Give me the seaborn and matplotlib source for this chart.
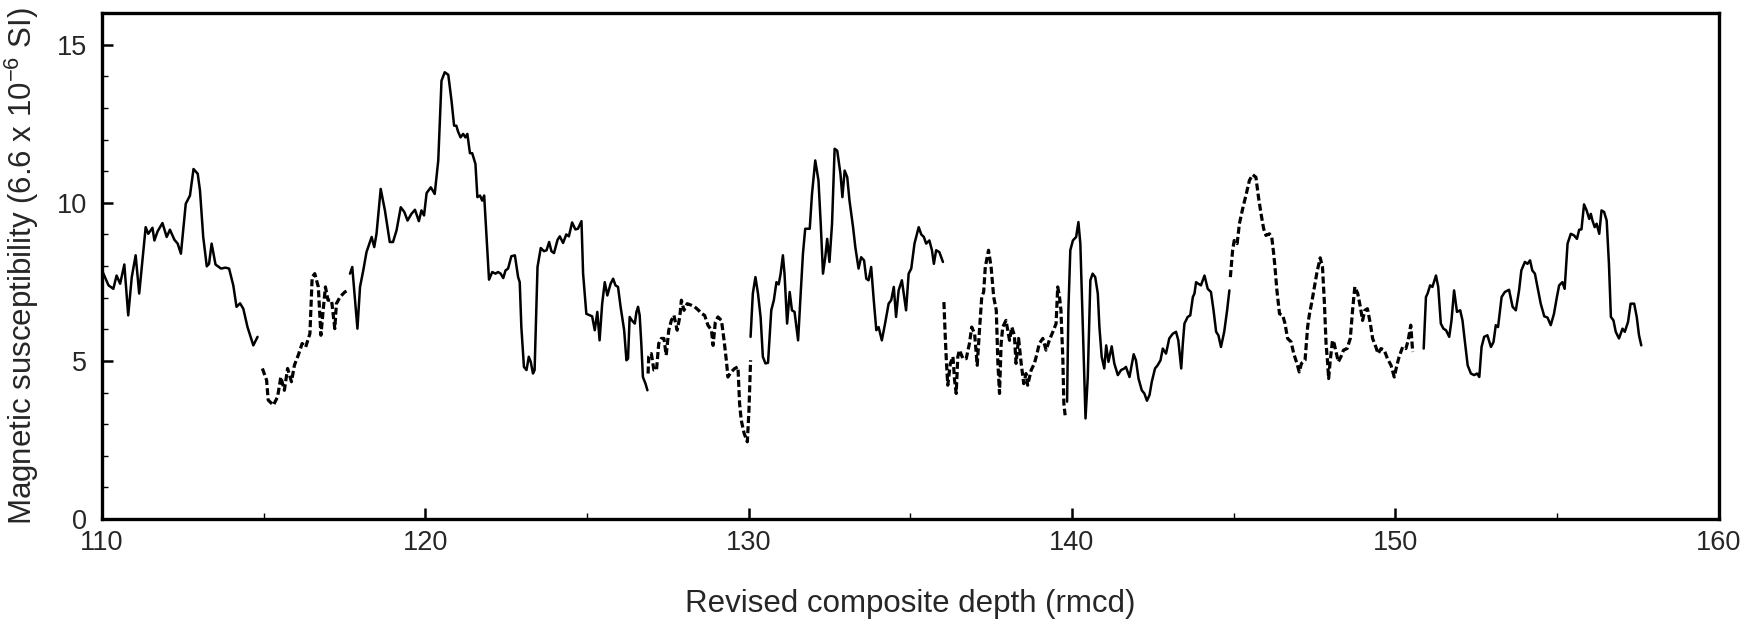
import numpy as np
import pandas as pd
import matplotlib
matplotlib.use("Agg")
import matplotlib.pyplot as plt
import seaborn as sns
from matplotlib.ticker import MultipleLocator

# depth (rmcd), magnetic susceptibility -- solid and dashed pieces, in depth order
solid_1 = [(110.0, 7.86), (110.09, 7.65), (110.2, 7.39), (110.35, 7.28), (110.45, 7.7), (110.56, 7.44),
           (110.69, 8.05), (110.81, 6.44), (110.92, 7.65), (111.04, 8.34), (111.15, 7.13), (111.35, 9.23),
           (111.43, 9.02), (111.56, 9.21), (111.62, 8.81), (111.72, 9.1), (111.87, 9.36), (112.0, 8.92),
           (112.1, 9.15), (112.24, 8.83), (112.34, 8.71), (112.44, 8.39), (112.59, 9.97), (112.72, 10.23),
           (112.83, 11.07), (112.96, 10.92), (113.03, 10.39), (113.13, 8.92), (113.24, 7.99), (113.31, 8.07),
           (113.39, 8.71), (113.51, 8.05), (113.68, 7.92), (113.82, 7.95), (113.93, 7.92), (114.06, 7.39),
           (114.16, 6.71), (114.27, 6.82), (114.37, 6.65), (114.5, 6.07), (114.68, 5.49), (114.81, 5.76)]

dashed_1 = [(114.96, 4.76), (115.09, 4.39), (115.14, 3.76), (115.3, 3.6), (115.43, 3.86), (115.53, 4.49),
            (115.64, 4.07), (115.74, 4.76), (115.86, 4.34), (115.95, 4.86), (116.07, 5.18), (116.19, 5.55),
            (116.3, 5.44), (116.43, 5.86), (116.5, 7.65), (116.58, 7.76), (116.69, 7.34), (116.77, 5.81),
            (116.84, 6.6), (116.91, 7.34), (116.99, 6.92), (117.1, 6.92), (117.2, 6.02), (117.25, 6.81),
            (117.36, 7.02), (117.51, 7.18), (117.61, 7.23)]

solid_2 = [(117.67, 7.76), (117.74, 7.97), (117.9, 6.02), (117.98, 7.34), (118.08, 7.86), (118.18, 8.44),
           (118.34, 8.92), (118.42, 8.6), (118.49, 9.02), (118.62, 10.44), (118.75, 9.76), (118.9, 8.76),
           (119.0, 8.76), (119.11, 9.13), (119.24, 9.86), (119.35, 9.71), (119.45, 9.44), (119.57, 9.65),
           (119.68, 9.78), (119.8, 9.42), (119.88, 9.76), (119.96, 9.6), (120.04, 10.31), (120.17, 10.49),
           (120.29, 10.28), (120.4, 11.34), (120.5, 13.86), (120.6, 14.13), (120.71, 14.05), (120.81, 13.23),
           (120.89, 12.44), (120.96, 12.44), (121.01, 12.26), (121.09, 12.07), (121.17, 12.18), (121.24, 12.07),
           (121.3, 12.18), (121.38, 11.57), (121.45, 11.57), (121.55, 11.23), (121.61, 10.18), (121.69, 10.23),
           (121.76, 10.07), (121.82, 10.23), (121.97, 7.57), (122.07, 7.81), (122.17, 7.76), (122.25, 7.81),
           (122.33, 7.76), (122.41, 7.62), (122.48, 7.86), (122.56, 7.92), (122.66, 8.31), (122.77, 8.34),
           (122.87, 7.65), (122.92, 7.49), (122.97, 6.07), (123.05, 4.81), (123.13, 4.71), (123.2, 5.13),
           (123.26, 4.97), (123.33, 4.6), (123.38, 4.71), (123.47, 7.97), (123.57, 8.57), (123.67, 8.47),
           (123.75, 8.5), (123.83, 8.76), (123.9, 8.47), (123.98, 8.41), (124.09, 8.83), (124.16, 8.94),
           (124.26, 8.73), (124.36, 9.0), (124.44, 8.94), (124.54, 9.38), (124.64, 9.16), (124.72, 9.18),
           (124.83, 9.42), (124.88, 7.76), (124.98, 6.49), (125.09, 6.44), (125.16, 6.41), (125.24, 5.97),
           (125.32, 6.55), (125.39, 5.65), (125.47, 6.81), (125.55, 7.49), (125.63, 7.07), (125.73, 7.44),
           (125.81, 7.6), (125.88, 7.39), (125.96, 7.34), (126.04, 6.71), (126.15, 5.97), (126.22, 5.02),
           (126.27, 5.07), (126.32, 6.39), (126.39, 6.28), (126.48, 6.18), (126.53, 6.55), (126.58, 6.71),
           (126.63, 6.44), (126.68, 5.55), (126.73, 4.49), (126.81, 4.28), (126.87, 4.07)]

dashed_2 = [(126.89, 4.6), (126.91, 5.13), (126.99, 5.23), (127.07, 4.71), (127.15, 4.71), (127.22, 5.55),
            (127.3, 5.71), (127.38, 5.71), (127.45, 5.18), (127.53, 5.97), (127.61, 6.28), (127.69, 6.44),
            (127.79, 5.97), (127.87, 6.39), (127.92, 6.92), (128.0, 6.6), (128.1, 6.81), (128.23, 6.76),
            (128.33, 6.71), (128.43, 6.62), (128.56, 6.49), (128.64, 6.44), (128.74, 6.13), (128.85, 5.97),
            (128.9, 5.49), (128.97, 6.23), (129.05, 6.39), (129.16, 6.28), (129.24, 5.65), (129.31, 5.02),
            (129.36, 4.49), (129.46, 4.65), (129.57, 4.76), (129.67, 4.81), (129.72, 3.65), (129.77, 3.13),
            (129.86, 2.71), (129.96, 2.44), (130.01, 3.44), (130.06, 5.02)]

solid_3 = [(130.06, 5.76), (130.13, 7.13), (130.21, 7.65), (130.29, 7.13), (130.37, 6.39), (130.44, 5.13),
           (130.52, 4.92), (130.6, 4.94), (130.7, 6.6), (130.78, 6.92), (130.86, 7.49), (130.93, 7.42),
           (130.99, 7.76), (131.06, 8.34), (131.11, 7.76), (131.19, 6.18), (131.27, 7.18), (131.34, 6.6),
           (131.42, 6.55), (131.53, 5.65), (131.61, 7.13), (131.68, 8.39), (131.75, 9.18), (131.89, 9.18),
           (131.96, 10.28), (132.06, 11.34), (132.16, 10.71), (132.23, 9.34), (132.3, 7.76), (132.37, 8.28),
           (132.43, 8.86), (132.5, 8.13), (132.58, 9.34), (132.66, 11.71), (132.74, 11.65), (132.84, 10.92),
           (132.9, 10.18), (132.97, 11.02), (133.05, 10.81), (133.12, 10.07), (133.23, 9.23), (133.3, 8.6),
           (133.4, 7.92), (133.48, 8.28), (133.57, 8.18), (133.64, 7.6), (133.71, 7.55), (133.79, 7.97),
           (133.87, 6.92), (133.95, 5.97), (134.02, 6.07), (134.12, 5.65), (134.22, 6.18), (134.33, 6.81),
           (134.41, 6.92), (134.49, 7.34), (134.56, 6.39), (134.64, 7.23), (134.74, 7.55), (134.87, 6.6),
           (134.95, 7.76), (135.03, 7.92), (135.13, 8.71), (135.26, 9.23), (135.34, 9.0), (135.42, 8.92),
           (135.49, 8.71), (135.59, 8.81), (135.67, 8.5), (135.73, 8.07), (135.8, 8.5), (135.9, 8.44),
           (136.01, 8.13)]

dashed_3 = [(136.04, 6.86), (136.08, 5.81), (136.12, 4.92), (136.16, 4.23), (136.24, 4.92), (136.32, 5.13),
            (136.37, 4.39), (136.42, 3.97), (136.47, 5.13), (136.52, 5.34), (136.63, 5.07), (136.73, 5.07),
            (136.83, 5.55), (136.9, 6.07), (136.99, 5.86), (137.07, 4.86), (137.14, 5.97), (137.21, 7.02),
            (137.27, 7.18), (137.32, 7.97), (137.42, 8.5), (137.5, 7.97), (137.58, 7.02), (137.66, 6.6),
            (137.71, 4.92), (137.76, 3.97), (137.81, 5.55), (137.86, 6.07), (137.96, 6.28), (138.07, 5.65),
            (138.14, 6.07), (138.22, 5.81), (138.27, 4.92), (138.35, 5.71), (138.43, 4.92), (138.51, 4.28),
            (138.58, 4.6), (138.63, 4.23), (138.74, 4.71), (138.84, 4.92), (138.92, 5.23), (138.99, 5.55),
            (139.1, 5.71), (139.2, 5.34), (139.3, 5.65), (139.41, 5.92), (139.51, 6.18), (139.56, 7.34),
            (139.61, 7.07), (139.66, 6.6), (139.72, 5.02), (139.75, 3.65), (139.79, 3.28)]

solid_4 = [(139.85, 3.71), (139.89, 6.6), (139.95, 8.5), (140.03, 8.81), (140.13, 8.92), (140.2, 9.39),
           (140.26, 8.71), (140.34, 5.97), (140.42, 3.18), (140.49, 4.49), (140.57, 7.55), (140.64, 7.76),
           (140.72, 7.65), (140.8, 7.13), (140.85, 6.07), (140.92, 5.13), (141.0, 4.76), (141.06, 5.49),
           (141.13, 4.97), (141.23, 5.46), (141.31, 4.92), (141.42, 4.55), (141.52, 4.71), (141.62, 4.76),
           (141.67, 4.81), (141.78, 4.49), (141.91, 5.21), (141.98, 5.02), (142.06, 4.44), (142.16, 4.07),
           (142.24, 3.97), (142.32, 3.74), (142.4, 3.92), (142.47, 4.34), (142.57, 4.76), (142.65, 4.86),
           (142.74, 5.02), (142.81, 5.39), (142.91, 5.23), (143.01, 5.71), (143.12, 5.86), (143.22, 5.92),
           (143.29, 5.65), (143.38, 4.76), (143.43, 5.55), (143.48, 6.18), (143.58, 6.39), (143.66, 6.44),
           (143.74, 7.02), (143.79, 7.13), (143.84, 7.49), (143.91, 7.44), (143.99, 7.39), (144.1, 7.7),
           (144.2, 7.28), (144.3, 7.18), (144.38, 6.6), (144.46, 5.92), (144.53, 5.81), (144.61, 5.44),
           (144.71, 5.92), (144.8, 6.6), (144.87, 7.23)]

dashed_4 = [(144.9, 7.65), (144.97, 8.5), (145.02, 8.81), (145.11, 8.71), (145.18, 9.34), (145.28, 9.81),
            (145.38, 10.23), (145.49, 10.71), (145.59, 10.89), (145.69, 10.81), (145.77, 10.18), (145.85, 9.65),
            (145.93, 9.18), (146.0, 8.97), (146.11, 9.02), (146.18, 8.92), (146.24, 8.39), (146.28, 7.97),
            (146.34, 7.23), (146.42, 6.49), (146.52, 6.44), (146.59, 6.18), (146.67, 5.71), (146.78, 5.6),
            (146.86, 5.23), (146.96, 4.92), (147.03, 4.65), (147.1, 4.92), (147.21, 5.02), (147.29, 6.07),
            (147.34, 6.44), (147.41, 6.81), (147.5, 7.34), (147.58, 7.81), (147.68, 8.26), (147.75, 7.97),
            (147.81, 6.81), (147.86, 5.55), (147.91, 4.92), (147.94, 4.44), (147.99, 5.02), (148.06, 5.65),
            (148.11, 5.55), (148.17, 5.28), (148.24, 4.97), (148.32, 5.13), (148.4, 5.34), (148.51, 5.39),
            (148.61, 5.71), (148.68, 6.6), (148.75, 7.34), (148.84, 7.13), (148.92, 6.71), (148.99, 6.28),
            (149.06, 6.6), (149.14, 6.65), (149.23, 6.18), (149.3, 5.71), (149.4, 5.44), (149.47, 5.23),
            (149.56, 5.39), (149.66, 5.34), (149.76, 5.07), (149.87, 4.86), (149.97, 4.49), (150.05, 4.86),
            (150.12, 5.13), (150.23, 5.44), (150.33, 5.39), (150.4, 5.65), (150.48, 6.13), (150.54, 5.28)]

solid_5 = [(150.88, 5.39), (150.95, 7.02), (151.0, 7.13), (151.08, 7.39), (151.15, 7.34), (151.26, 7.7),
           (151.33, 7.34), (151.41, 6.18), (151.49, 6.02), (151.57, 5.97), (151.67, 5.76), (151.74, 6.28),
           (151.82, 7.23), (151.91, 6.55), (152.01, 6.6), (152.08, 6.28), (152.15, 5.65), (152.24, 4.86),
           (152.34, 4.6), (152.44, 4.55), (152.53, 4.6), (152.6, 4.49), (152.67, 5.44), (152.75, 5.76),
           (152.85, 5.81), (152.96, 5.44), (153.04, 5.6), (153.11, 6.13), (153.18, 6.07), (153.29, 7.02),
           (153.39, 7.18), (153.52, 7.25), (153.63, 6.71), (153.73, 6.6), (153.83, 7.23), (153.9, 7.86),
           (154.01, 8.13), (154.09, 8.07), (154.17, 8.18), (154.24, 7.86), (154.32, 7.76), (154.42, 7.23),
           (154.5, 6.81), (154.61, 6.41), (154.71, 6.37), (154.81, 6.13), (154.91, 6.49), (155.0, 7.02),
           (155.07, 7.39), (155.17, 7.49), (155.24, 7.28), (155.33, 8.71), (155.43, 9.02), (155.53, 8.97),
           (155.62, 8.86), (155.69, 9.15), (155.76, 9.16), (155.84, 9.95), (155.92, 9.76), (156.0, 9.49),
           (156.05, 9.65), (156.1, 9.44), (156.17, 9.23), (156.23, 9.34), (156.31, 9.02), (156.38, 9.76),
           (156.46, 9.71), (156.54, 9.44), (156.61, 8.07), (156.67, 6.39), (156.75, 6.28), (156.82, 5.92),
           (156.92, 5.71), (157.03, 6.02), (157.1, 5.92), (157.2, 6.23), (157.28, 6.81), (157.39, 6.81),
           (157.47, 6.39), (157.54, 5.81), (157.61, 5.49)]

segments = [(solid_1, False), (dashed_1, True), (solid_2, False), (dashed_2, True), (solid_3, False),
            (dashed_3, True), (solid_4, False), (dashed_4, True), (solid_5, False)]

sns.set_theme(style="ticks")
plt.rcParams['font.family'] = ['Liberation Sans', 'DejaVu Sans']
plt.rcParams['mathtext.fontset'] = 'custom'
plt.rcParams['mathtext.rm'] = 'Liberation Sans'

fig = plt.figure(figsize=(17.59, 6.26), dpi=100)
ax = fig.add_axes([0.058, 0.171, 0.919, 0.808])

for pts, dashed in segments:
    df = pd.DataFrame(pts, columns=["depth", "msus"])
    if dashed:
        sns.lineplot(data=df, x="depth", y="msus", ax=ax, color="black", lw=2.3,
                     sort=False, estimator=None, linestyle=(0, (2.2, 1.0)))
    else:
        sns.lineplot(data=df, x="depth", y="msus", ax=ax, color="black", lw=1.8,
                     sort=False, estimator=None)

ax.set_xlim(110, 160)
ax.set_ylim(0, 16)
ax.xaxis.set_major_locator(MultipleLocator(10))
ax.xaxis.set_minor_locator(MultipleLocator(5))
ax.yaxis.set_major_locator(MultipleLocator(5))
ax.yaxis.set_minor_locator(MultipleLocator(1))
ax.tick_params(which="both", direction="in", top=False, right=False, labelsize=19.5, color="black")
ax.tick_params(axis="y", which="major", length=8, width=1.8, pad=11)
ax.tick_params(axis="y", which="minor", length=4, width=1.0)
ax.tick_params(axis="x", which="major", length=8, width=1.8, pad=8)
ax.tick_params(axis="x", which="minor", length=4, width=1.0)
for s in ax.spines.values():
    s.set_linewidth(2.4)
    s.set_color("black")

ax.set_xlabel("Revised composite depth (rmcd)", fontsize=22.5, labelpad=24)
ax.set_ylabel(r"Magnetic susceptibility (6.6 x 10$^{\mathregular{-6}}$ SI)", fontsize=22.5, labelpad=11)

fig.savefig("out.png", dpi=100, facecolor="white")
